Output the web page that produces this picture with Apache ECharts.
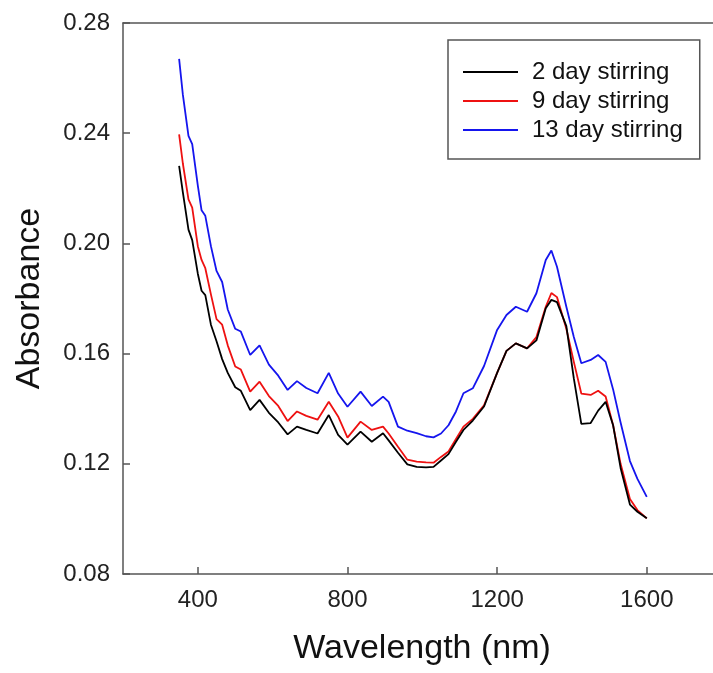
<!DOCTYPE html>
<html>
<head>
<meta charset="utf-8">
<script src="https://cdn.jsdelivr.net/npm/echarts@6/dist/echarts.min.js"></script>
<style>html,body{margin:0;padding:0;background:#fff}#chart{width:713px;height:673px}</style>
</head>
<body>
<div id="chart"></div>
<script>
const wavelengths = [350,360,375,385,400,410,420,435,450,465,480,500,515,540,565,590,615,640,665,690,720,750,775,800,835,865,895,910,935,960,985,1010,1030,1050,1070,1090,1110,1135,1165,1200,1225,1250,1280,1305,1330,1345,1360,1385,1405,1425,1450,1470,1490,1510,1530,1555,1575,1600];
const day2 = [0.2281,0.2185,0.205,0.2012,0.189,0.1828,0.1812,0.1705,0.1645,0.158,0.153,0.1478,0.1465,0.1395,0.1432,0.1385,0.135,0.1307,0.1335,0.1323,0.131,0.1377,0.1305,0.127,0.1317,0.128,0.1311,0.1285,0.124,0.1198,0.1189,0.1187,0.1189,0.1212,0.1235,0.128,0.1323,0.1357,0.1408,0.153,0.161,0.1637,0.1619,0.1648,0.1765,0.1795,0.1787,0.170,0.151,0.1345,0.1348,0.1393,0.1425,0.134,0.1185,0.1052,0.1026,0.1002];
const day9 = [0.2396,0.229,0.216,0.213,0.199,0.194,0.191,0.1815,0.1725,0.1705,0.163,0.1553,0.1542,0.1462,0.1498,0.1446,0.141,0.1355,0.139,0.1374,0.136,0.1425,0.1372,0.1295,0.1353,0.1323,0.1335,0.131,0.1262,0.1215,0.1208,0.1205,0.1204,0.1225,0.1245,0.129,0.1335,0.1363,0.1412,0.153,0.161,0.1637,0.1619,0.166,0.177,0.182,0.1805,0.169,0.157,0.1455,0.145,0.1465,0.1444,0.134,0.120,0.1072,0.1032,0.1002];
const day13 = [0.267,0.254,0.239,0.236,0.221,0.212,0.210,0.199,0.190,0.186,0.176,0.169,0.168,0.1595,0.163,0.156,0.152,0.1468,0.150,0.1475,0.1456,0.153,0.1455,0.1407,0.1462,0.141,0.1444,0.1425,0.1335,0.132,0.1311,0.130,0.1296,0.131,0.134,0.139,0.1456,0.1474,0.1555,0.1686,0.174,0.177,0.1752,0.1819,0.194,0.1974,0.1915,0.177,0.166,0.1565,0.1577,0.1595,0.157,0.147,0.135,0.121,0.1145,0.108];
const seriesNames = ['2 day stirring','9 day stirring','13 day stirring'];
const seriesColors = ['#000000','#ee1111','#1515ee'];
const xTicks = [400,800,1200,1600];

const allValues = [day2, day9, day13];
const chart = echarts.init(document.getElementById('chart'), null, {renderer:'canvas'});
const font = 'Liberation Sans, Arial, sans-serif';
chart.setOption({
  animation: false,
  backgroundColor: '#fff',
  grid: {left:123, top:23, right:0, bottom:99, show:false},
  legend: {
    orient:'vertical', left:448, top:40,
    data: seriesNames.map(n => ({name:n, icon:'rect'})),
    itemWidth:55, itemHeight:2, itemGap:5,
    padding:[20,17,17,15],
    borderColor:'#555', borderWidth:1.5,
    textStyle:{fontFamily:font, fontSize:24, color:'#111', padding:[0,0,0,9]}
  },
  xAxis: [{
    type:'value', min:200, max:1777, position:'bottom',
    name:'Wavelength (nm)', nameLocation:'middle', nameGap:58,
    nameTextStyle:{fontFamily:font, fontSize:34, color:'#111', padding:[0,0,0,8]},
    axisLine:{lineStyle:{color:'#555', width:1.5}},
    axisTick:{inside:true, length:7, customValues:xTicks, lineStyle:{color:'#555', width:1.5}},
    axisLabel:{customValues:xTicks, fontFamily:font, fontSize:24, color:'#222', margin:14, formatter: v => String(v)},
    splitLine:{show:false}
  },{
    type:'value', min:200, max:1777, position:'top',
    axisLine:{show:true, lineStyle:{color:'#555', width:1.5}},
    axisTick:{show:false}, axisLabel:{show:false}, splitLine:{show:false}
  }],
  yAxis: {
    type:'value', min:0.08, max:0.28, interval:0.04,
    name:'Absorbance', nameLocation:'middle', nameGap:76,
    nameTextStyle:{fontFamily:font, fontSize:34, color:'#111'},
    axisLine:{show:true, lineStyle:{color:'#555', width:1.5}},
    axisTick:{show:true, inside:true, length:7, lineStyle:{color:'#555', width:1.5}},
    axisLabel:{fontFamily:font, fontSize:24, color:'#222', margin:13, formatter: v => v.toFixed(2)},
    splitLine:{show:false}
  },
  series: seriesNames.map((n,i) => ({
    name:n, type:'line', showSymbol:false, symbol:'none', xAxisIndex:0,
    data: wavelengths.map((w,j) => [w, allValues[i][j]]),
    lineStyle:{color:seriesColors[i], width:1.8},
    itemStyle:{color:seriesColors[i]},
    z: 3 - i
  }))
});
</script>
</body>
</html>
